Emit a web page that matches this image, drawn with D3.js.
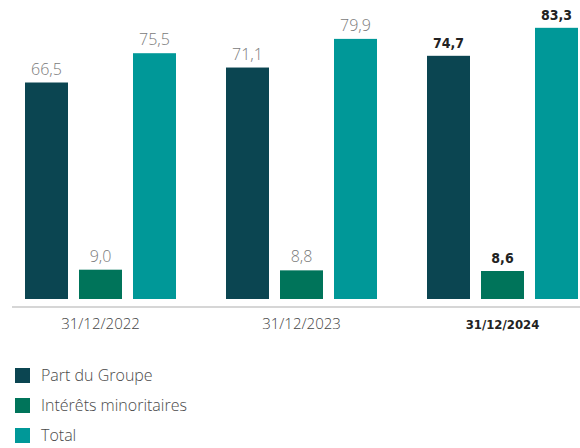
<!DOCTYPE html>
<html>
<head>
<meta charset="utf-8">
<script src="https://cdn.jsdelivr.net/npm/d3@7"></script>
<style>
  body { margin: 0; background: #fff; }
  svg { display: block; font-family: "Open Sans", sans-serif; font-weight: 300; }
  .bold { font-family: "DejaVu Sans", sans-serif; font-stretch: condensed; font-weight: bold; fill: #222; }
</style>
</head>
<body>
<div id="chart"></div>
<script>
const dates = ["31/12/2022", "31/12/2023", "31/12/2024"];
const series = ["Part du Groupe", "Intérêts minoritaires", "Total"];
const partGroupe = [66.5, 71.1, 74.7];
const interets = [9.0, 8.8, 8.6];
const total = [75.5, 79.9, 83.3];
const colors = ["#0b4551", "#00745a", "#009898"];

const width = 580, height = 448;

const data = dates.map((d, i) => ({
  date: d,
  values: [partGroupe[i], interets[i], total[i]]
}));

const svg = d3.select("#chart").append("svg")
  .attr("width", width)
  .attr("height", height);

const x0 = d3.scaleBand().domain(dates).range([25, 578]).paddingInner(50 / 201);
const x1 = d3.scaleBand().domain(series).range([0, x0.bandwidth()]).paddingInner(11 / 54);
const y = d3.scaleLinear().domain([0, 90]).range([299, 6]);

const fmt = v => d3.format(".1f")(v).replace(".", ",");

const groups = svg.selectAll(".grp")
  .data(data)
  .join("g")
  .attr("class", "grp")
  .attr("transform", d => "translate(" + x0(d.date) + ",0)");

groups.selectAll("rect")
  .data(d => d.values.map((v, j) => ({ key: series[j], v: v })))
  .join("rect")
  .attr("x", d => x1(d.key))
  .attr("y", d => y(d.v))
  .attr("width", x1.bandwidth())
  .attr("height", d => y(0) - y(d.v))
  .attr("fill", (d, j) => colors[j]);

groups.each(function(g, i) {
  const last = i === dates.length - 1;
  d3.select(this).selectAll("text.val")
    .data(g.values.map((v, j) => ({ key: series[j], v: v })))
    .join("text")
    .attr("class", last ? "val bold" : "val")
    .attr("x", d => x1(d.key) + x1.bandwidth() / 2)
    .attr("y", d => y(d.v) - 8)
    .attr("text-anchor", "middle")
    .style("font-size", last ? "14px" : "16px")
    .style("fill", last ? "#222" : "#7a7a7a")
    .text(d => fmt(d.v));
});

// axis
svg.append("line")
  .attr("x1", 12).attr("x2", 580)
  .attr("y1", 307).attr("y2", 307)
  .attr("stroke", "#c8c8c8")
  .attr("stroke-width", 1.5);

svg.selectAll(".xlab")
  .data(dates)
  .join("text")
  .attr("class", (d, i) => i === dates.length - 1 ? "xlab bold" : "xlab")
  .attr("x", d => x0(d) + x0.bandwidth() / 2)
  .attr("y", 329)
  .attr("text-anchor", "middle")
  .style("font-size", (d, i) => i === dates.length - 1 ? "13px" : "15px")
  .style("fill", (d, i) => i === dates.length - 1 ? "#222" : "#444")
  .text(d => d);

// legend
const legend = svg.selectAll(".leg")
  .data(series)
  .join("g")
  .attr("class", "leg")
  .attr("transform", (d, i) => "translate(15," + (368 + i * 30) + ")");

legend.append("rect")
  .attr("width", 15).attr("height", 15)
  .attr("fill", (d, i) => colors[i]);

legend.append("text")
  .attr("x", 26)
  .attr("y", 13)
  .style("font-size", "16px")
  .style("fill", "#4a4a4a")
  .text(d => d);
</script>
</body>
</html>
